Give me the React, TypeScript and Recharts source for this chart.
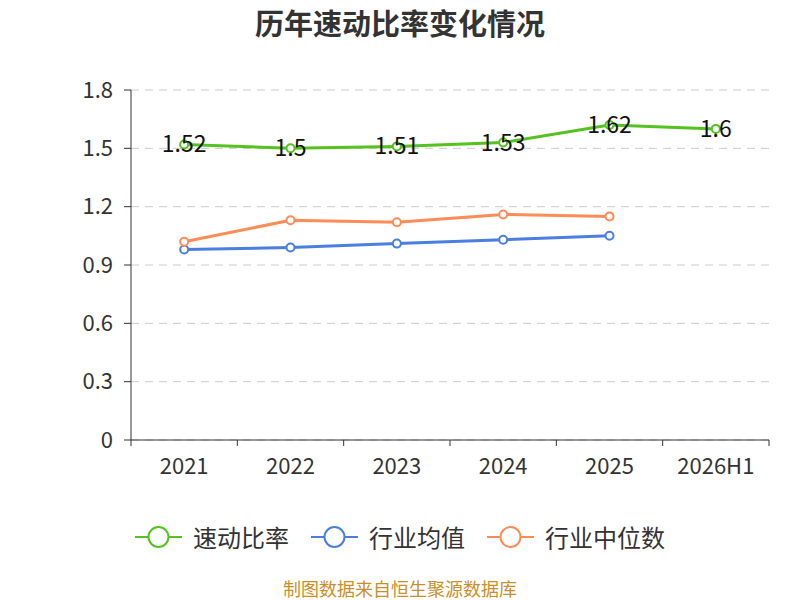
import { LineChart, Line, XAxis, YAxis, CartesianGrid, LabelList } from "recharts";

const years = ["2021", "2022", "2023", "2024", "2025", "2026H1"];
const quickRatio = [1.52, 1.5, 1.51, 1.53, 1.62, 1.6];
const industryAvg = [0.98, 0.99, 1.01, 1.03, 1.05, null];
const industryMedian = [1.02, 1.13, 1.12, 1.16, 1.15, null];
const yTicks = [0, 0.3, 0.6, 0.9, 1.2, 1.5, 1.8];

const data = years.map((year, i) => ({
  year,
  quick: quickRatio[i],
  avg: industryAvg[i],
  median: industryMedian[i],
}));

const FONT = '"Noto Sans CJK SC", "Noto Sans", sans-serif';
const PLOT_LEFT = 131;
const PLOT_RIGHT = 769;
const STEP = (PLOT_RIGHT - PLOT_LEFT) / years.length;

const series = [
  { key: "quick", name: "速动比率", color: "#55c21f" },
  { key: "avg", name: "行业均值", color: "#4a7fe2" },
  { key: "median", name: "行业中位数", color: "#ff8c57" },
];

function XTick(props: any) {
  const { x, y, payload, index } = props;
  const left = x - STEP / 2;
  return (
    <g>
      <line x1={left} y1={y - 8} x2={left} y2={y - 2} stroke="#333" />
      {index === years.length - 1 && (
        <line x1={x + STEP / 2} y1={y - 8} x2={x + STEP / 2} y2={y - 2} stroke="#333" />
      )}
      <text x={x} y={y + 26} textAnchor="middle" fill="#333" fontSize={22} fontFamily={FONT}>
        {payload.value}
      </text>
    </g>
  );
}

function QuickLabel(props: any) {
  const { x, y, value } = props;
  return (
    <text x={x} y={y - 2} textAnchor="middle" dominantBaseline="central" fill="#111" fontSize={23} fontFamily={FONT}>
      {value}
    </text>
  );
}

export default function App() {
  return (
    <div style={{ position: "relative", width: 800, height: 600, background: "#fff", fontFamily: FONT, overflow: "hidden" }}>
      <style>{`body{margin:0}`}</style>
      <div
        style={{
          position: "absolute",
          top: 7,
          width: "100%",
          textAlign: "center",
          fontSize: 29,
          lineHeight: "30px",
          fontWeight: "bold",
          color: "#333",
        }}
      >
        历年速动比率变化情况
      </div>
      <LineChart
        width={800}
        height={600}
        data={data}
        margin={{ top: 90, right: 800 - PLOT_RIGHT, bottom: 120, left: 0 }}
      >
        <CartesianGrid vertical={false} stroke="#cccccc" strokeDasharray="8 6" />
        <XAxis
          dataKey="year"
          axisLine={{ stroke: "#333" }}
          tickLine={false}
          tick={<XTick />}
          interval={0}
          height={40}
          padding={{ left: STEP / 2, right: STEP / 2 }}
        />
        <YAxis
          domain={[0, 1.8]}
          ticks={yTicks}
          width={PLOT_LEFT}
          axisLine={{ stroke: "#333" }}
          tickLine={{ stroke: "#333" }}
          tickSize={7}
          tickMargin={11}
          tick={{ fill: "#333", fontSize: 22, fontFamily: FONT }}
          tickFormatter={(v: number) => (v === 0 ? "0" : v.toFixed(1))}
        />
        {series.map((s) => (
          <Line
            key={s.key}
            dataKey={s.key}
            name={s.name}
            stroke={s.color}
            strokeWidth={3}
            dot={{ r: 4, fill: "#fff", stroke: s.color, strokeWidth: 2 }}
            activeDot={false}
            isAnimationActive={false}
            connectNulls={false}
          >
            {s.key === "quick" && <LabelList dataKey="quick" content={<QuickLabel />} />}
          </Line>
        ))}
      </LineChart>
      <div
        style={{
          position: "absolute",
          top: 522,
          left: 0,
          width: 800,
          display: "flex",
          justifyContent: "center",
          gap: 22,
        }}
      >
        {series.map((s) => (
          <div key={s.key} style={{ display: "flex", alignItems: "center", gap: 11 }}>
            <svg width={47} height={30}>
              <line x1={0} y1={15} x2={47} y2={15} stroke={s.color} strokeWidth={2} />
              <circle cx={23.5} cy={15} r={10} fill="#fff" stroke={s.color} strokeWidth={2} />
            </svg>
            <span style={{ fontSize: 24, lineHeight: "30px", color: "#333" }}>{s.name}</span>
          </div>
        ))}
      </div>
      <div
        style={{
          position: "absolute",
          top: 578,
          width: "100%",
          textAlign: "center",
          fontSize: 18,
          lineHeight: "20px",
          color: "#c8902c",
        }}
      >
        制图数据来自恒生聚源数据库
      </div>
    </div>
  );
}
